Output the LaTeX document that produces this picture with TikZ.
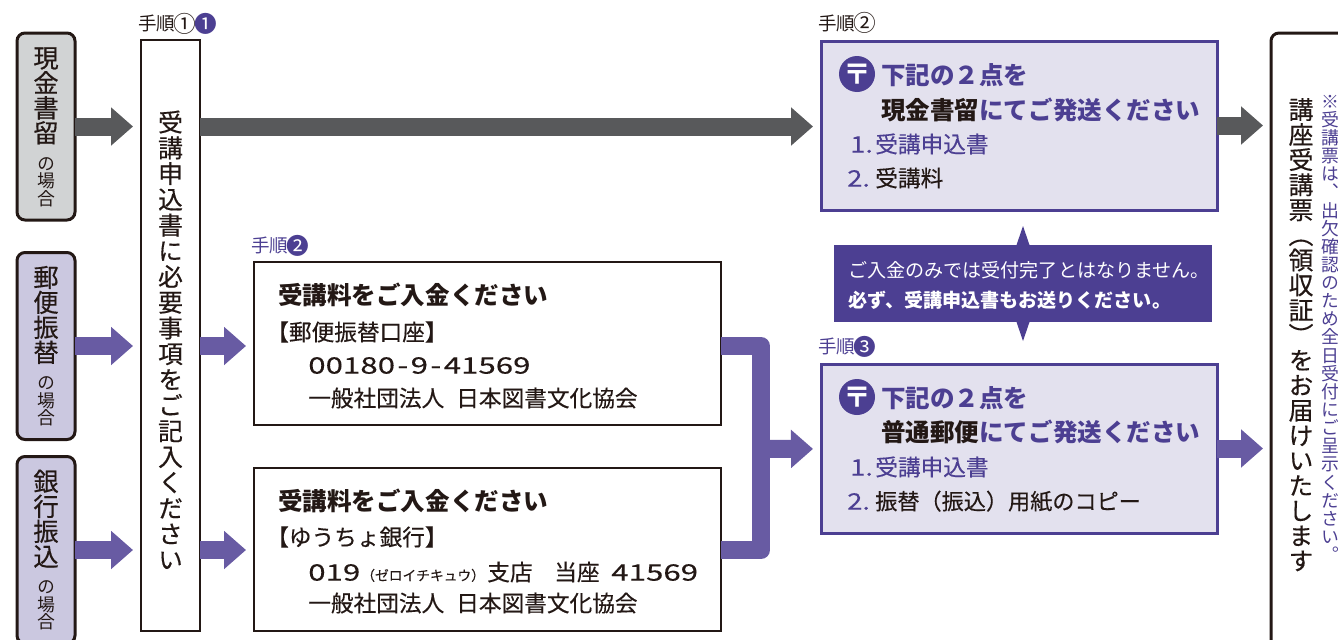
\documentclass[tikz,border=0pt]{standalone}
\usepackage{fontspec}
\setmainfont{Noto Sans CJK JP}
\newfontfamily\bodyfont[FakeBold=0.3]{Noto Sans CJK JP}
\newfontfamily\vertfont[RawFeature=+vert,FakeBold=0.4]{Noto Sans CJK JP}
\newfontfamily\vertlight[RawFeature=+vert]{Noto Sans CJK JP}
\newfontfamily\digitfont[FakeStretch=1.38,FakeBold=0.15]{Noto Sans CJK JP}
\newfontfamily\listfont[FakeStretch=1.2,FakeBold=0.15]{Noto Sans CJK JP}
\usetikzlibrary{arrows.meta,shapes.geometric,positioning}
\definecolor{inkdark}{HTML}{231815}
\definecolor{violetdark}{HTML}{4C3F92}
\definecolor{violetmid}{HTML}{685BA3}
\definecolor{violetpale}{HTML}{CBC8E0}
\definecolor{violetwash}{HTML}{E3E1EE}
\definecolor{graypale}{HTML}{D1D3D4}
\definecolor{graydark}{HTML}{58595B}
\newcommand{\px}{0.75pt}
\newcommand{\sizehead}{\fontsize{18.4pt}{22pt}\selectfont}
\newcommand{\sizebody}{\bodyfont\fontsize{17pt}{20pt}\selectfont}
\newcommand{\sizelabel}{\fontsize{13.9pt}{16pt}\selectfont}
\newcommand{\sizenote}{\fontsize{14.3pt}{16pt}\selectfont}
\newcommand{\stepmark}[1]{\hbox to 14pt{\hss\raisebox{-1.5pt}{\fontsize{17pt}{17pt}\selectfont #1}\hss}}
\makeatletter
\newcommand{\vtext}[3]{\vbox{\offinterlineskip\vertfont\fontsize{#2}{#2}\selectfont
  \@tfor\vch:=#3\do{\hbox to #1{\hss\smash{\vch}\hss\rule[-.12\dimexpr#1\relax]{0pt}{#1}}}}}
\makeatother
\newcommand{\modetext}[1]{\vbox{\vtext{18.75pt}{19pt}{#1}\vskip 6pt\hbox to 18.75pt{\hss\let\vertfont\vertlight\vtext{13.2pt}{13.4pt}{の場合}\hss}}}
\tikzset{
	modebox/.style={draw=inkdark,line width=3*\px,rounded corners=8*\px,minimum width=58*\px,minimum height=187*\px,inner sep=0pt,outer sep=0pt,text=inkdark},
	flatbox/.style={draw=inkdark,line width=1.6*\px,fill=white,inner sep=0pt,outer sep=0pt},
	sendbox/.style={draw=violetdark,line width=3*\px,fill=violetwash,minimum width=396*\px,minimum height=169*\px,inner sep=0pt,outer sep=0pt},
	paybox/.style={flatbox,minimum width=467*\px,minimum height=163*\px},
	line/.style={anchor=base west,inner sep=0pt,text=inkdark},
	stamp/.style={circle,fill=violetdark,text=white,minimum size=36*\px,inner sep=0pt,font=\fontsize{21pt}{21pt}\selectfont\bfseries},
	grayarrow/.style={draw=graydark,line width=18*\px,-{Triangle[length=16.5pt,width=27.75pt]}},
	violetarrow/.style={draw=violetmid,line width=18*\px,-{Triangle[length=16.5pt,width=27.75pt]}},
}
\begin{document}
\begin{tikzpicture}[x=\px,y=-\px,shorten >=8*\px]
	\useasboundingbox (0,0) rectangle (1338,639);
	\clip (0,0) rectangle (1338,639);
	\node[modebox,fill=graypale] (genkin) at (46,126.5) {\modetext{現金書留}};
	\node[modebox,fill=violetpale] (yubin) at (46,346) {\modetext{郵便振替}};
	\node[modebox,fill=violetpale] (ginko) at (46,550) {\modetext{銀行振込}};
	\node[flatbox,minimum width=59*\px,minimum height=591*\px] (form) at (170.5,335.5) {};
	\node[paybox] (payA) at (487.5,343.5) {};
	\node[paybox] (payB) at (487.5,549.5) {};
	\node[sendbox] (kakitome) at (1019,125.5) {};
	\node[sendbox] (futsu) at (1019,448.5) {};
	\node[modebox,fill=white,minimum width=100*\px,minimum height=640*\px] (ticket) at (1321,353) {};
	\coordinate (joint) at (761,449);
	\draw[grayarrow] (genkin) -- (genkin -| form.west);
	\draw[violetarrow] (yubin) -- (yubin -| form.west);
	\draw[violetarrow] (ginko) -- (ginko -| form.west);
	\draw[grayarrow] (form.east |- genkin) -- (kakitome.west |- genkin);
	\draw[violetarrow] (form.east |- yubin) -- (payA.west |- yubin);
	\draw[violetarrow] (form.east |- ginko) -- (payB.west |- ginko);
	\draw[draw=violetmid,line width=18*\px,line join=round,shorten >=0pt] (payA.east |- yubin) -| (joint) |- (payB.east |- ginko);
	\draw[violetarrow] (joint) -- (futsu);
	\draw[grayarrow] (kakitome) -- (kakitome -| ticket.west);
	\draw[violetarrow] (futsu) -- (futsu -| ticket.west);
	\fill[violetdark] (834,245) rectangle (1212,322);
	\fill[violetdark] (1023,226) -- (1016.5,245) -- (1029.5,245) -- cycle;
	\fill[violetdark] (1023,341) -- (1016.5,322) -- (1029.5,322) -- cycle;
	\node[inner sep=0pt,text=inkdark] (formText) at (170.5,340.5) {\vtext{19.3pt}{18.6pt}{受講申込書に必要事項をご記入ください}};
	\node[line,font=\sizelabel] (stepOne) at (138,31) {手順\stepmark{①}\kern2pt\textcolor{violetdark}{\stepmark{❶}}};
	\node[line,font=\sizelabel,text=violetdark] (stepTwoB) at (251,252) {手順\stepmark{❷}};
	\node[line,font=\sizelabel] (stepTwo) at (818,30) {手順\stepmark{②}};
	\node[line,font=\sizelabel,text=violetdark] (stepThree) at (818,353) {手順\stepmark{❸}};
	\node[line,font=\sizehead\bfseries] (payAhead) at (278,304) {受講料をご入金ください};
	\node[line,font=\sizebody] (payAbank) at (266,340.6) {【郵便振替口座】};
	\node[line,font=\sizebody] (payAno) at (308,373.6) {{\digitfont 00180\kern1.8pt-\kern1.8pt9\kern1.8pt-\kern1.8pt41569}};
	\node[line,font=\sizebody] (payAname) at (308,406.6) {一般社団法人\hspace{9pt}日本図書文化協会};
	\node[line,font=\sizehead\bfseries] (payBhead) at (278,510) {受講料をご入金ください};
	\node[line,font=\sizebody] (payBbank) at (266,545.6) {【ゆうちょ銀行】};
	\node[line,font=\sizebody] (payBno) at (308,580.6) {\makebox[39.8pt][l]{\digitfont 019}\makebox[94.5pt][l]{\fontsize{10.3pt}{12pt}\selectfont （ゼロイチキュウ）}\makebox[50.25pt][l]{支店}\makebox[42.75pt][l]{当座}{\digitfont 41569}};
	\node[line,font=\sizebody] (payBname) at (308,611.6) {一般社団法人\hspace{9pt}日本図書文化協会};
	\node[stamp] (markA) at (857,74) {〒};
	\node[line,font=\sizehead\bfseries,text=violetdark] (sendAone) at (881,84) {下記の２点を};
	\node[line,font=\sizehead\bfseries,text=violetdark] (sendAtwo) at (881,119) {\textcolor{inkdark}{現金書留}にてご発送ください};
	\node[line,font=\sizebody,text=violetdark] (sendAdoc) at (850,152.6) {\makebox[18.75pt][l]{\listfont 1.}受講申込書};
	\node[line,font=\sizebody,text=violetdark] (sendAfee) at (847,186.6) {\makebox[21pt][l]{\listfont 2.}\textcolor{inkdark}{受講料}};
	\node[stamp] (markB) at (857,397) {〒};
	\node[line,font=\sizehead\bfseries,text=violetdark] (sendBone) at (881,407) {下記の２点を};
	\node[line,font=\sizehead\bfseries,text=violetdark] (sendBtwo) at (881,441) {\textcolor{inkdark}{普通郵便}にてご発送ください};
	\node[line,font=\sizebody,text=violetdark] (sendBdoc) at (850,475.6) {\makebox[18.75pt][l]{\listfont 1.}受講申込書};
	\node[line,font=\sizebody,text=violetdark] (sendBcopy) at (847,509.6) {\makebox[21pt][l]{\listfont 2.}\textcolor{inkdark}{\fontsize{16.6pt}{20pt}\selectfont 振替（振込）用紙のコピー}};
	\node[line,font=\sizenote,text=white] (noteOne) at (848,277) {ご入金のみでは受付完了とはなりません。};
	\node[line,font=\sizenote\bfseries,text=white] (noteTwo) at (848,307) {必ず、受講申込書もお送りください。};
	\node[inner sep=0pt,text=inkdark] (ticketText) at (1301,335) {\vtext{18.8pt}{18.6pt}{講座受講票（領収証）をお届けいたします}};
	\node[inner sep=0pt,text=violetdark] (ticketNote) at (1330,328) {\let\vertfont\vertlight\vtext{13.6pt}{13.4pt}{※受講票は、出欠確認のため全日受付にご呈示ください。}};
\end{tikzpicture}
\end{document}
